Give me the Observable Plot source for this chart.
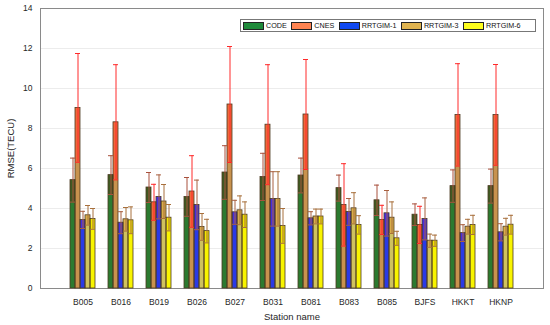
<!DOCTYPE html>
<html><head><meta charset="utf-8">
<script src="https://cdn.jsdelivr.net/npm/d3@7"></script>
<script src="https://cdn.jsdelivr.net/npm/@observablehq/plot@0.6"></script>
<style>
body{margin:0;background:#fff;font-family:"Liberation Sans",Arial,sans-serif;}
#wrap{position:relative;width:550px;height:325px;}
#wrap svg{position:absolute;left:0;top:0;}
#wrap g[aria-label="y-axis label"], #wrap g[aria-label="fx-axis label"]{font-size:9.5px;}
#legend{position:absolute;left:240px;top:19px;width:294px;height:11px;border:1px solid #777;background:#fff;display:flex;align-items:center;font-size:7.2px;color:#111;}
#legend .sw{display:inline-block;width:19px;height:6px;border:1px solid #222;margin-left:2px;margin-right:2px;}
#legend .it{display:flex;align-items:center;margin-right:2.5px;}
</style></head><body><div id="wrap"></div>
<script>
const stations = ["B005","B016","B019","B026","B027","B031","B081","B083","B085","BJFS","HKKT","HKNP"];
const seriesNames = ["CODE","CNES","RRTGIM-1","RRTGIM-3","RRTGIM-6"];
const codeMean = [5.42,5.67,5.05,4.58,5.80,5.58,5.65,5.02,4.41,3.69,5.12,5.12];
const codeStd  = [1.10,0.97,0.75,0.97,1.34,1.18,0.87,0.65,0.76,0.54,0.81,0.85];
const cnesMean = [9.03,8.31,4.31,4.85,9.20,8.19,8.70,4.18,3.43,3.18,8.68,8.68];
const cnesStd  = [2.72,2.88,0.90,1.79,2.90,3.00,2.75,2.06,0.73,0.93,2.56,2.52];
const r1Mean   = [3.43,3.29,4.58,4.18,3.81,4.48,3.51,3.83,3.76,3.48,2.77,2.81];
const r1Std    = [0.43,0.55,1.10,1.24,0.60,1.36,0.33,0.67,1.14,1.05,0.42,0.43];
const r3Mean   = [3.66,3.46,4.35,3.08,3.91,4.48,3.60,4.01,3.54,2.39,3.09,3.09];
const r3Std    = [0.49,0.59,0.85,0.67,0.72,1.36,0.37,0.78,0.79,0.33,0.37,0.42];
const r6Mean   = [3.48,3.41,3.54,2.87,3.69,3.13,3.60,3.18,2.51,2.39,3.18,3.19];
const r6Std    = [0.52,0.67,0.66,0.59,0.64,0.87,0.37,0.46,0.35,0.28,0.48,0.47];
const yTicks = [0,2,4,6,8,10,12,14];

const means = [codeMean, cnesMean, r1Mean, r3Mean, r6Mean];
const stds = [codeStd, cnesStd, r1Std, r3Std, r6Std];

// styles
const upperColor = {"CODE":"#3f5a22","CNES":"#f0683a","RRTGIM-1":"#4630dc","RRTGIM-3":"#d9ae4a","RRTGIM-6":"#f2e600"};
const lowerColor = {"CODE":"#2c7a30","CNES":"#c8924e","RRTGIM-1":"#2a3ae6","RRTGIM-3":"#cfc25e","RRTGIM-6":"#f8f400"};
const errColor = {"CODE":"#a8503c","CNES":"#ff2a2a","RRTGIM-1":"#a86040","RRTGIM-3":"#a8703c","RRTGIM-6":"#a8703c"};
const legendColor = {"CODE":"#1f8a3a","CNES":"#ff8452","RRTGIM-1":"#1048f0","RRTGIM-3":"#e0b450","RRTGIM-6":"#ffff1e"};

const rows = [];
stations.forEach((st, i) => seriesNames.forEach((s, j) => {
  rows.push({station: st, series: s, mean: means[j][i], sd: stds[j][i]});
}));

const W = 550, H = 325, mL = 40, mR = 7, mT = 8, mB = 37;
const font = {fontFamily: '"Liberation Sans", Arial, sans-serif', fontSize: "8.5px", color: "#262626", background: "transparent"};

const back = Plot.plot({
  width: W, height: H, marginLeft: mL, marginRight: mR, marginTop: mT, marginBottom: mB,
  style: font,
  y: {domain: [0, 14], ticks: yTicks, tickSize: 0, tickPadding: 8, label: "RMSE(TECU)", labelAnchor: "center", labelOffset: 33, labelArrow: "none"},
  marks: [
    Plot.ruleY(yTicks.filter(t => t > 0 && t < 14), {stroke: "#ececec", strokeWidth: 1}),
    Plot.frame({stroke: "#8a8a8a", strokeWidth: 1})
  ]
});

const front = Plot.plot({
  width: W, height: H, marginLeft: mL, marginRight: mR, marginTop: mT, marginBottom: mB,
  style: font,
  fx: {domain: stations, paddingInner: 0.23, paddingOuter: 0.565, tickSize: 0, tickPadding: 10, label: "Station name", labelAnchor: "center", labelOffset: 31},
  x: {domain: seriesNames, padding: 0, axis: null},
  y: {domain: [0, 14], axis: null},
  color: {type: "identity"},
  marks: [
    Plot.barY(rows, {fx: "station", x: "series", y: "mean", fill: d => upperColor[d.series]}),
    Plot.barY(rows, {fx: "station", x: "series", y1: 0, y2: d => Math.max(0, d.mean - d.sd), fill: d => lowerColor[d.series]}),
    Plot.barY(rows, {fx: "station", x: "series", y: "mean", fill: "none", stroke: "#4b3a22", strokeWidth: 0.8}),
    Plot.ruleX(rows, {fx: "station", x: "series", y1: d => d.mean - d.sd, y2: d => d.mean + d.sd, stroke: d => errColor[d.series], strokeWidth: 1}),
    Plot.tickY(rows, {fx: "station", x: "series", y: d => d.mean + d.sd, stroke: d => errColor[d.series], strokeWidth: 1}),
    Plot.tickY(rows, {fx: "station", x: "series", y: d => d.mean - d.sd, stroke: d => errColor[d.series], strokeWidth: 1})
  ]
});

const wrap = document.getElementById("wrap");
wrap.appendChild(back);
wrap.appendChild(front);

const leg = document.createElement("div");
leg.id = "legend";
seriesNames.forEach(s => {
  const it = document.createElement("span");
  it.className = "it";
  const sw = document.createElement("span");
  sw.className = "sw";
  sw.style.background = legendColor[s];
  it.appendChild(sw);
  it.appendChild(document.createTextNode(s));
  leg.appendChild(it);
});
wrap.appendChild(leg);
</script></body></html>
